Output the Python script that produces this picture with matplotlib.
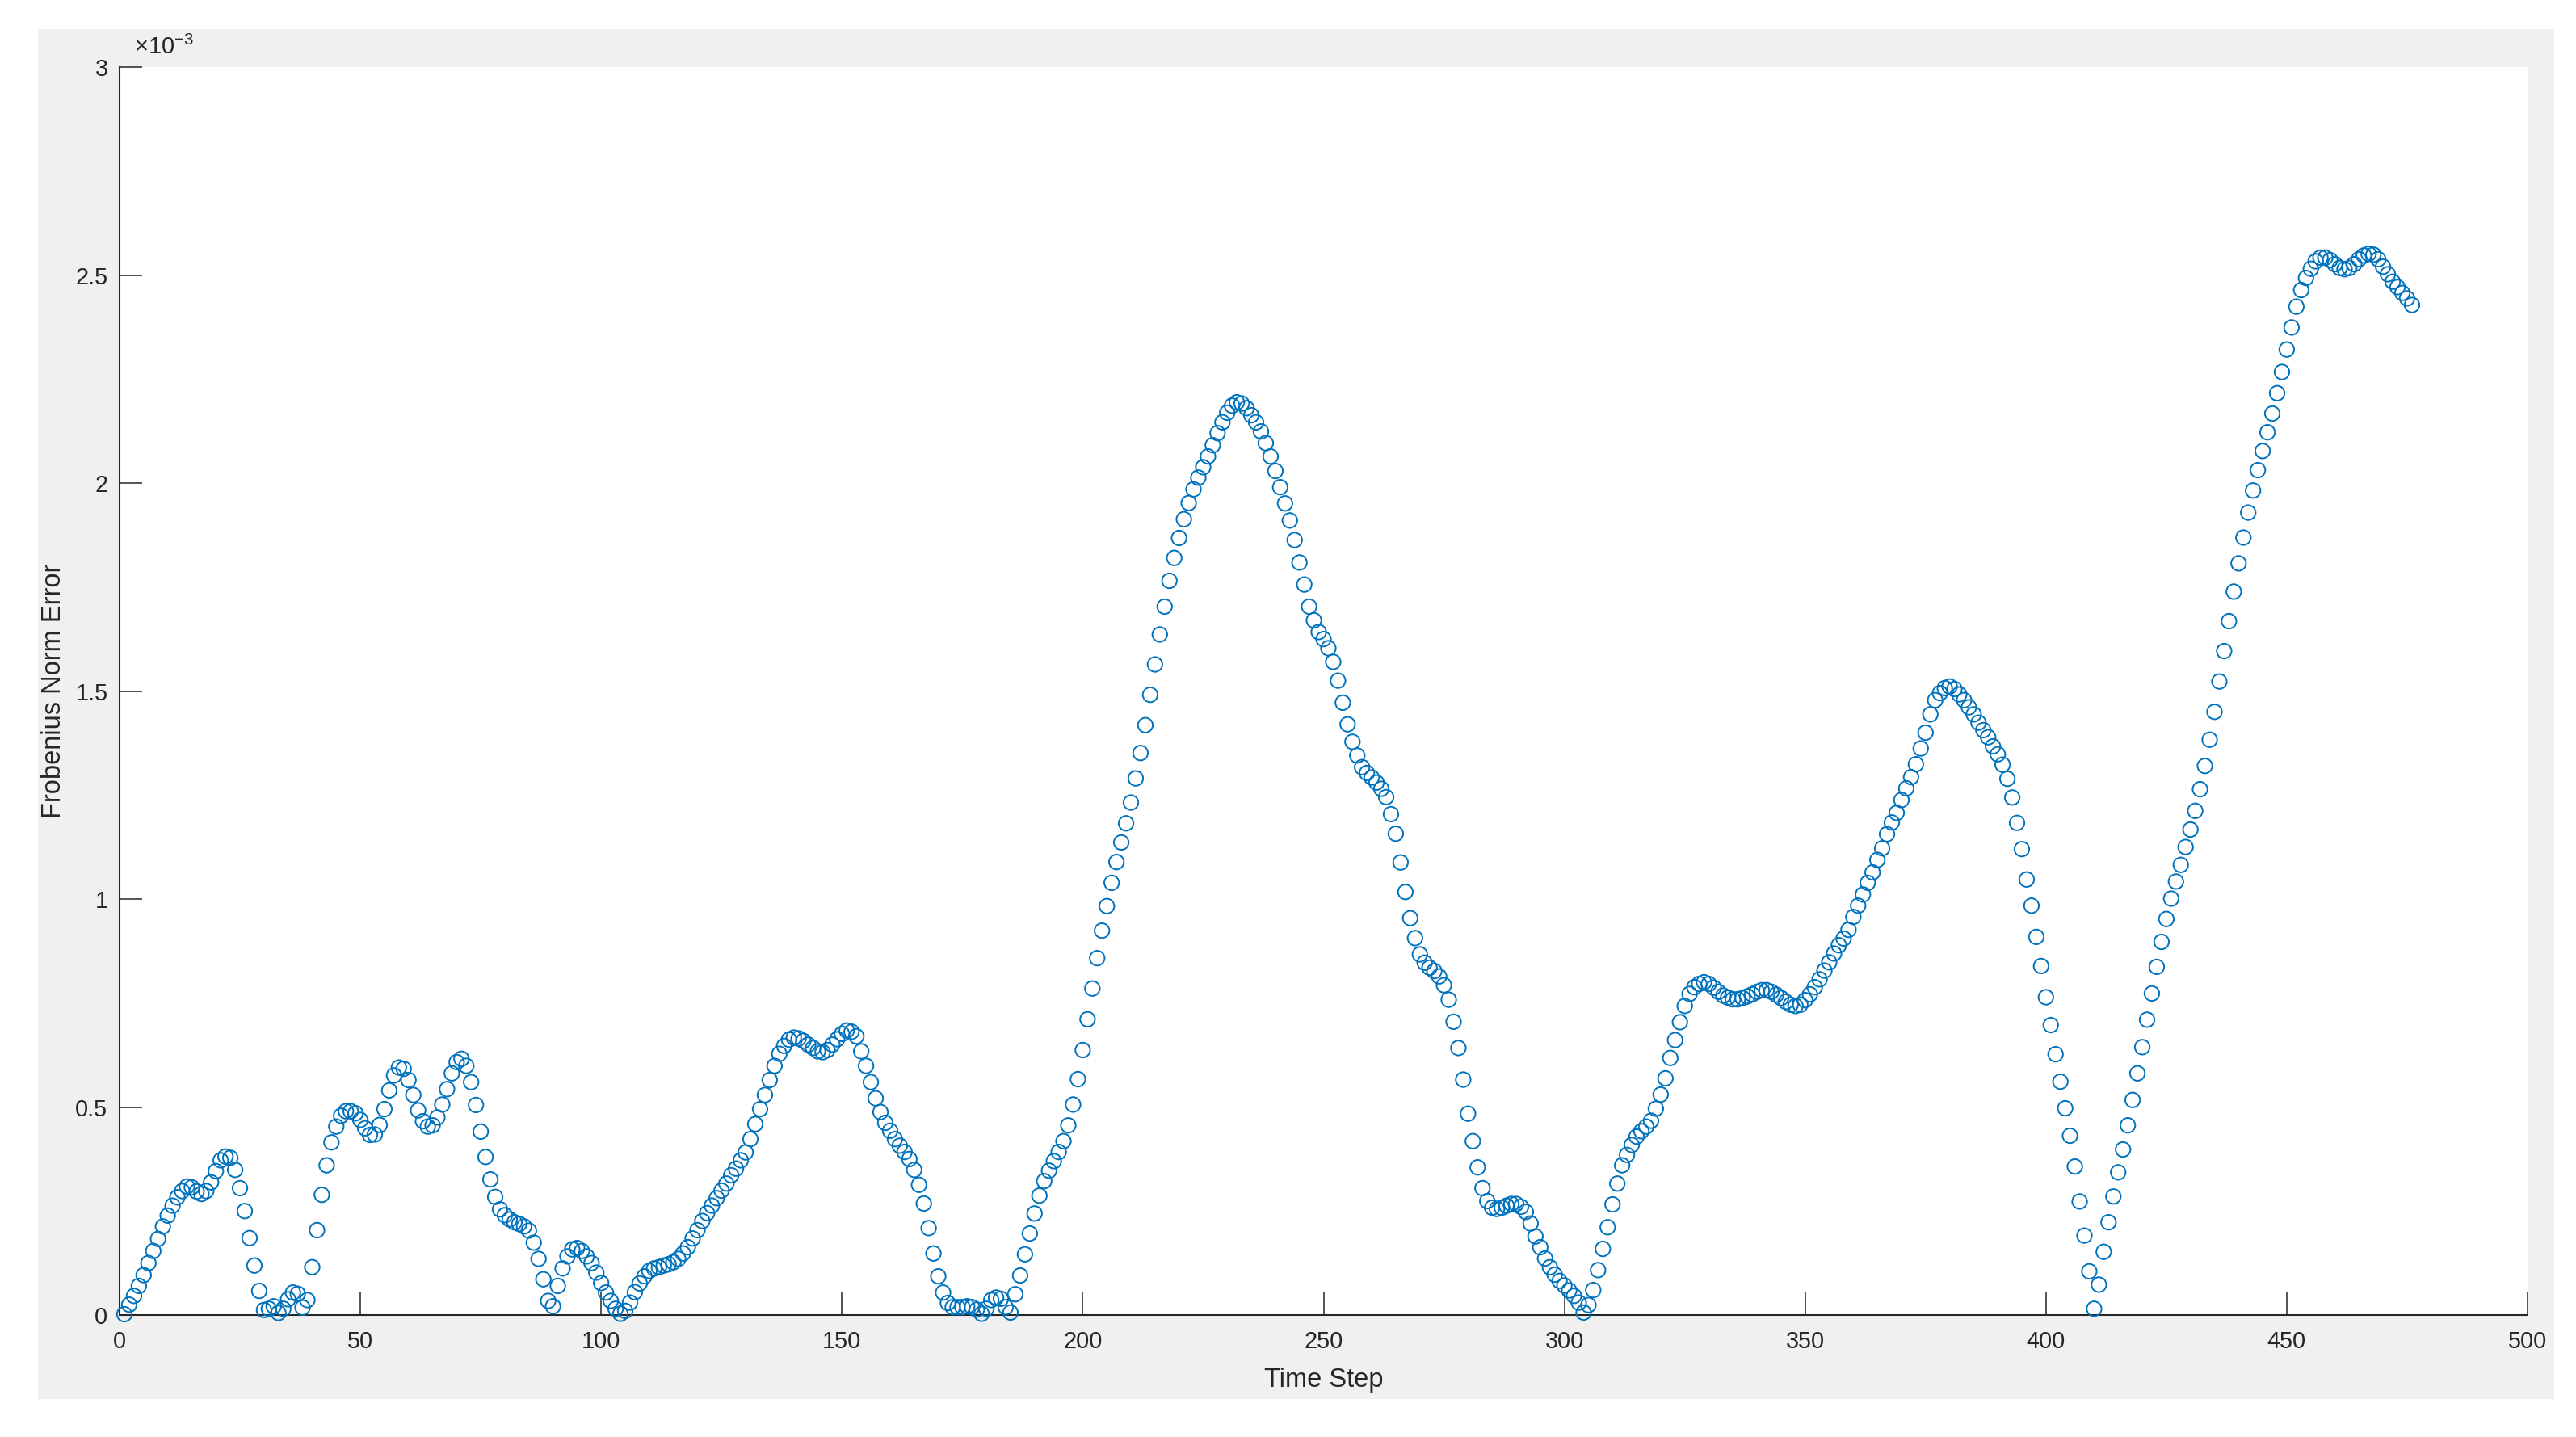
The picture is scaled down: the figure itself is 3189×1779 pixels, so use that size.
import numpy as np
import matplotlib.pyplot as plt
from matplotlib.patches import Rectangle

plt.rcParams['font.family'] = ['Liberation Sans', 'DejaVu Sans']
plt.rcParams['mathtext.fontset'] = 'custom'
plt.rcParams['mathtext.rm'] = 'Liberation Sans'

# Frobenius norm error for each time step, in units of 1e-3
error_e3 = [
    0.002, 0.025, 0.046, 0.070, 0.096, 0.125, 0.154, 0.183, 0.213, 0.239,
    0.263, 0.283, 0.298, 0.309, 0.307, 0.297, 0.291, 0.298, 0.319, 0.346,
    0.372, 0.381, 0.378, 0.349, 0.305, 0.250, 0.185, 0.119, 0.058, 0.012,
    0.015, 0.021, 0.005, 0.015, 0.038, 0.054, 0.051, 0.018, 0.036, 0.115,
    0.204, 0.289, 0.360, 0.415, 0.453, 0.479, 0.490, 0.490, 0.485, 0.469,
    0.449, 0.433, 0.434, 0.457, 0.495, 0.540, 0.576, 0.595, 0.592, 0.565,
    0.529, 0.492, 0.466, 0.453, 0.456, 0.475, 0.506, 0.543, 0.581, 0.608,
    0.616, 0.599, 0.560, 0.505, 0.441, 0.380, 0.326, 0.284, 0.254, 0.240,
    0.230, 0.223, 0.219, 0.213, 0.203, 0.174, 0.135, 0.086, 0.034, 0.021,
    0.070, 0.112, 0.141, 0.158, 0.161, 0.154, 0.141, 0.125, 0.102, 0.077,
    0.054, 0.034, 0.015, 0.003, 0.010, 0.030, 0.055, 0.076, 0.093, 0.106,
    0.112, 0.115, 0.119, 0.122, 0.127, 0.135, 0.148, 0.163, 0.184, 0.204,
    0.226, 0.245, 0.263, 0.281, 0.299, 0.316, 0.336, 0.352, 0.372, 0.391,
    0.423, 0.459, 0.495, 0.529, 0.565, 0.599, 0.628, 0.647, 0.662, 0.667,
    0.665, 0.659, 0.650, 0.642, 0.634, 0.632, 0.637, 0.650, 0.663, 0.676,
    0.684, 0.681, 0.670, 0.634, 0.599, 0.560, 0.521, 0.488, 0.462, 0.443,
    0.423, 0.407, 0.392, 0.375, 0.349, 0.313, 0.268, 0.209, 0.148, 0.093,
    0.054, 0.029, 0.019, 0.019, 0.019, 0.021, 0.019, 0.013, 0.003, 0.015,
    0.036, 0.042, 0.039, 0.019, 0.006, 0.050, 0.095, 0.146, 0.196, 0.244,
    0.287, 0.322, 0.347, 0.370, 0.392, 0.418, 0.456, 0.506, 0.567, 0.637,
    0.711, 0.785, 0.858, 0.924, 0.983, 1.039, 1.089, 1.136, 1.182, 1.232,
    1.290, 1.351, 1.418, 1.491, 1.564, 1.636, 1.703, 1.765, 1.820, 1.868,
    1.913, 1.952, 1.985, 2.013, 2.038, 2.064, 2.091, 2.120, 2.146, 2.169,
    2.186, 2.194, 2.191, 2.180, 2.163, 2.146, 2.124, 2.096, 2.064, 2.029,
    1.990, 1.951, 1.910, 1.863, 1.809, 1.756, 1.703, 1.670, 1.642, 1.625,
    1.603, 1.570, 1.525, 1.472, 1.420, 1.378, 1.345, 1.317, 1.303, 1.292,
    1.280, 1.265, 1.245, 1.204, 1.157, 1.088, 1.017, 0.954, 0.906, 0.867,
    0.847, 0.835, 0.827, 0.814, 0.793, 0.758, 0.705, 0.642, 0.566, 0.484,
    0.418, 0.355, 0.305, 0.274, 0.258, 0.255, 0.258, 0.263, 0.267, 0.267,
    0.260, 0.248, 0.220, 0.189, 0.163, 0.136, 0.115, 0.097, 0.082, 0.071,
    0.059, 0.046, 0.030, 0.006, 0.024, 0.060, 0.108, 0.159, 0.211, 0.266,
    0.316, 0.360, 0.385, 0.409, 0.429, 0.442, 0.453, 0.467, 0.496, 0.530,
    0.569, 0.618, 0.661, 0.704, 0.743, 0.772, 0.788, 0.796, 0.800, 0.796,
    0.787, 0.777, 0.768, 0.763, 0.759, 0.759, 0.762, 0.766, 0.771, 0.777,
    0.781, 0.781, 0.777, 0.770, 0.762, 0.753, 0.746, 0.743, 0.746, 0.757,
    0.771, 0.788, 0.807, 0.828, 0.848, 0.869, 0.889, 0.905, 0.926, 0.957,
    0.984, 1.011, 1.039, 1.064, 1.094, 1.122, 1.156, 1.184, 1.207, 1.238,
    1.266, 1.293, 1.324, 1.362, 1.400, 1.444, 1.478, 1.495, 1.507, 1.511,
    1.505, 1.492, 1.478, 1.461, 1.444, 1.424, 1.406, 1.389, 1.367, 1.348,
    1.323, 1.289, 1.244, 1.183, 1.120, 1.047, 0.984, 0.909, 0.839, 0.764,
    0.697, 0.627, 0.561, 0.497, 0.431, 0.357, 0.273, 0.191, 0.105, 0.015,
    0.073, 0.152, 0.223, 0.285, 0.343, 0.398, 0.456, 0.517, 0.581, 0.644,
    0.710, 0.773, 0.837, 0.897, 0.952, 1.001, 1.042, 1.082, 1.125, 1.167,
    1.212, 1.264, 1.320, 1.383, 1.450, 1.523, 1.596, 1.668, 1.739, 1.807,
    1.869, 1.929, 1.982, 2.031, 2.077, 2.122, 2.167, 2.216, 2.267, 2.321,
    2.374, 2.424, 2.464, 2.493, 2.515, 2.533, 2.542, 2.542, 2.536, 2.526,
    2.517, 2.514, 2.517, 2.526, 2.538, 2.547, 2.551, 2.549, 2.538, 2.520,
    2.502, 2.484, 2.471, 2.457, 2.444, 2.428,
]
time_steps = np.arange(1, len(error_e3) + 1)

x_ticks = [0, 50, 100, 150, 200, 250, 300, 350, 400, 450, 500]
y_ticks_e3 = [0, 0.5, 1, 1.5, 2, 2.5, 3]
y_tick_labels = ['0', '0.5', '1', '1.5', '2', '2.5', '3']

error = np.array(error_e3) * 1e-3

W, H = 3189, 1779
fig = plt.figure(figsize=(W / 100, H / 100), dpi=100)

# grey figure background (MATLAB style), white margin around it
fig.patches.append(Rectangle((47 / W, 1 - 1732 / H), (3162 - 47) / W, (1732 - 36) / H,
                             transform=fig.transFigure, facecolor='#f0f0f0',
                             edgecolor='none', zorder=-5))

ax = fig.add_axes([148 / W, 1 - 1628 / H, (3129 - 148) / W, (1628 - 83) / H])
ax.set_zorder(1)
ax.scatter(time_steps, error, s=13.2 ** 2, facecolors='none', edgecolors='#0072BD',
           linewidths=1.4, clip_on=False, zorder=3)

ax.set_xlim(0, 500)
ax.set_ylim(0, 3e-3)
ax.set_xticks(x_ticks)
ax.set_xticklabels([str(v) for v in x_ticks])
ax.set_yticks([v * 1e-3 for v in y_ticks_e3])
ax.set_yticklabels(y_tick_labels)

for side in ['top', 'right']:
    ax.spines[side].set_visible(False)
for side in ['left', 'bottom']:
    ax.spines[side].set_color('#262626')
    ax.spines[side].set_linewidth(1.5)

ax.tick_params(direction='in', length=20, width=1.1, colors='#262626', labelsize=20.8)
ax.tick_params(axis='x', pad=14)
ax.tick_params(axis='y', pad=10.5)

ax.set_xlabel('Time Step', fontsize=23.5, color='#262626', va='baseline')
ax.xaxis.set_label_coords(0.5, (1628 - 1717) / (1628 - 83))
ax.set_ylabel('Frobenius Norm Error', fontsize=23.5, color='#262626', va='baseline')
ax.yaxis.set_label_coords((75 - 148) / (3129 - 148), 0.5)

fig.text(166 / W, 1 - 67 / H, r'$\times10^{-3}$', fontsize=21, color='#262626',
         ha='left', va='baseline')

fig.savefig('out.png', dpi=100)
